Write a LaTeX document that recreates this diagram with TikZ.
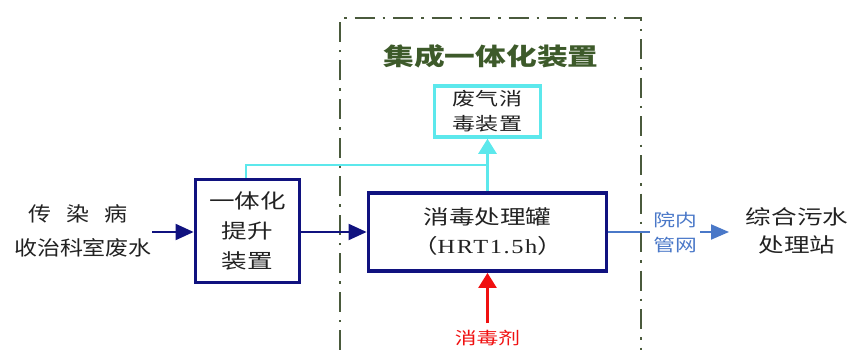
\documentclass[tikz,border=0pt]{standalone}
\usepackage{fontspec}
\setmainfont[FakeStretch=1.28]{Noto Sans CJK SC}
\newfontfamily\cjkw[FakeStretch=1.28]{Noto Sans CJK SC}
\newfontfamily\cjkm[FakeStretch=1.15]{Noto Sans CJK SC}
\newfontfamily\tnr[FakeStretch=1.22,LetterSpace=8]{Liberation Serif}
\usetikzlibrary{arrows.meta}
\definecolor{navy}{HTML}{10127F}
\definecolor{cyanl}{HTML}{5CE8EC}
\definecolor{olive}{HTML}{4A5A3C}
\definecolor{titleg}{HTML}{3D5A2A}
\definecolor{steel}{HTML}{4A78C8}
\definecolor{redc}{HTML}{F01010}
\definecolor{textc}{HTML}{222222}
\tikzset{
  box/.style={draw=navy, line width=3.8pt, inner sep=0pt, align=center, text=textc},
  gasbox/.style={draw=cyanl, line width=3.5pt, inner sep=0pt, align=center, text=textc,
    font=\cjkw\fontsize{18}{25}\selectfont},
  txt/.style={align=center, inner sep=0pt, text=textc},
  arr/.style={-{Triangle[length=18pt,width=16pt]}},
  arrs/.style={-{Triangle[length=15pt,width=18pt]}},
}
\begin{document}
\begin{tikzpicture}[x=1pt,y=-1pt]
\useasboundingbox (0,0) rectangle (856,350);
% integrated boundary
\draw[olive, line width=2.3pt, dash pattern=on 20pt off 8pt on 2.5pt off 8pt]
  (340,350) -- (340,18) -- (641,18) -- (641,350);
\node[txt, text=titleg, font=\cjkw\fontsize{24}{28}\selectfont\bfseries] (title) at (491,56) {集成一体化装置};
% nodes
\node[gasbox, minimum width=106pt, minimum height=51pt] (gas) at (487.5,111.5) {废气消\\毒装置};
\node[box, minimum width=104pt, minimum height=103pt, font=\cjkw\fontsize{20}{30}\selectfont] (lift) at (247.5,231) {一体化\\提升\\装置};
\node[box, minimum width=238pt, minimum height=78pt, font=\cjkw\fontsize{20}{29}\selectfont] (tank) at (487.5,232) {消毒处理罐\\{（\tnr HRT1.5h\cjkw ）}};
\node[txt, font=\cjkm\fontsize{20}{24}\selectfont] (src1) at (78,214) {传\hspace{0.75em}染\hspace{0.75em}病};
\node[txt, font=\cjkm\fontsize{20}{24}\selectfont] (src2) at (83,248) {收治科室废水};
\node[txt, text=redc, font=\cjkw\fontsize{17}{20}\selectfont] (dis) at (487.5,338) {消毒剂};
\node[txt, text=steel, font=\cjkw\fontsize{17}{25}\selectfont] (net) at (675,232) {院内\\管网};
\node[txt, font=\cjkw\fontsize{20}{28}\selectfont] (plant) at (797,231) {综合污水\\处理站};
% connectors
\coordinate (srcR) at (152,232);
\draw[navy, line width=2pt, arr] (srcR) -- (lift.west |- srcR);
\draw[navy, line width=2pt, arr] (lift.east |- srcR) -- (tank.west |- srcR);
\draw[cyanl, line width=2.5pt, arrs] (tank.north) -- (gas.south);
\coordinate (jn) at (487.5,165);
\draw[cyanl, line width=2.5pt] (lift.north -| 246,0) |- (jn);
\coordinate (redS) at (487.5,323);
\draw[redc, line width=2.5pt, arrs] (redS) -- (tank.south);
\draw[steel, line width=2pt] (tank.east |- srcR) -- (650,232);
\coordinate (netE) at (700,232);
\coordinate (plantW) at (729,232);
\draw[steel, line width=2pt, -{Triangle[length=18pt,width=15pt]}] (netE) -- (plantW);
\end{tikzpicture}
\end{document}
